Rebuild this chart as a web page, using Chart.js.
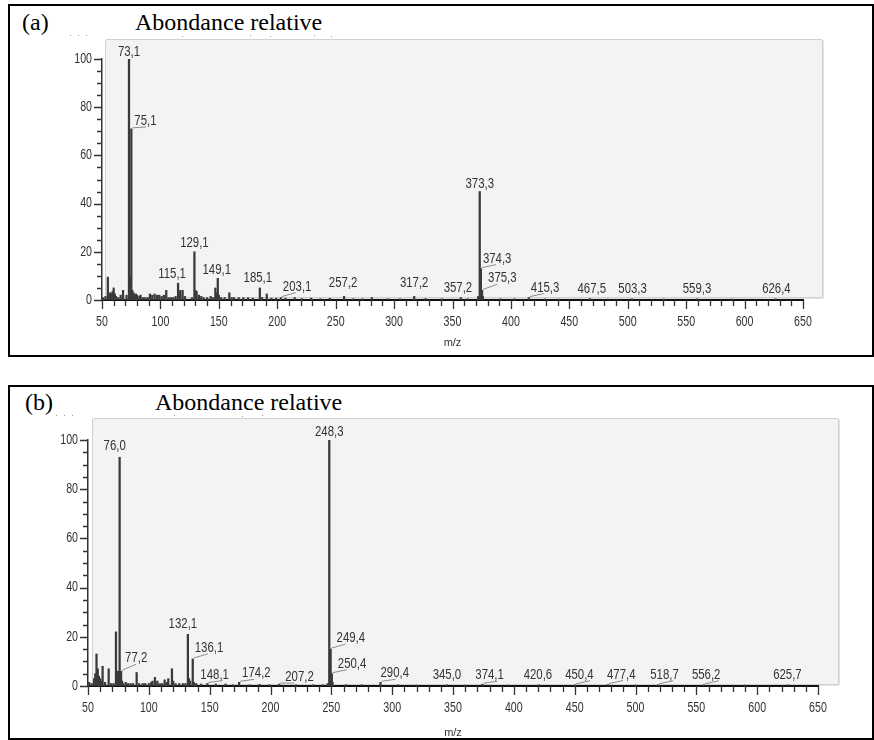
<!DOCTYPE html>
<html>
<head>
<meta charset="utf-8">
<script src="https://cdn.jsdelivr.net/npm/chart.js@4.4.1/dist/chart.umd.min.js"></script>
<style>
html,body{margin:0;padding:0;background:#fff;}
body{width:874px;height:740px;position:relative;overflow:hidden;}
.box{position:absolute;border:2px solid #000;box-sizing:border-box;}
.panel{position:absolute;background:#f3f3f3;border:1px solid #d0d0d0;box-sizing:border-box;border-radius:2px;box-shadow:1px 1px 0 #e4e4e4;}
.ttl{position:absolute;font-family:'Liberation Serif','Times New Roman',serif;font-size:24px;line-height:24px;color:#000;white-space:nowrap;}
.dot{position:absolute;width:1px;height:1px;background:#9a9a9a;}
.cv{position:absolute;}
</style>
</head>
<body>
<div class="box" style="left:8px;top:4px;width:866px;height:353px;"></div>
<div class="ttl" style="left:22px;top:10px;">(a)</div>
<div class="ttl" style="left:135px;top:10px;">Abondance relative</div>
<div class="dot" style="left:70px;top:35px;"></div><div class="dot" style="left:78px;top:35px;"></div><div class="dot" style="left:86px;top:35px;"></div>
<div class="dot" style="left:182px;top:36px;"></div><div class="dot" style="left:250px;top:35px;"></div><div class="dot" style="left:270px;top:36px;"></div><div class="dot" style="left:314px;top:35px;"></div><div class="dot" style="left:331px;top:36px;"></div>
<div class="panel" style="left:105px;top:39px;width:718px;height:259px;"></div>
<canvas id="chartA" class="cv" style="left:10px;top:6px;" width="860" height="348"></canvas>

<div class="box" style="left:8px;top:385px;width:866px;height:355px;"></div>
<div class="ttl" style="left:25px;top:390px;">(b)</div>
<div class="ttl" style="left:155px;top:390px;">Abondance relative</div>
<div class="dot" style="left:56px;top:415px;"></div><div class="dot" style="left:64px;top:415px;"></div><div class="dot" style="left:72px;top:415px;"></div>
<div class="dot" style="left:174px;top:415px;"></div><div class="dot" style="left:242px;top:416px;"></div><div class="dot" style="left:262px;top:415px;"></div>
<div class="panel" style="left:92px;top:418px;width:747px;height:267px;"></div>
<canvas id="chartB" class="cv" style="left:10px;top:388px;" width="860" height="352"></canvas>

<script>
// ---------------- DATA: spectrum (a) ----------------
const mzA = [51,53,55,56,57,58,59,60,61,62,64,66,68,71,73.1,74,75.1,76,77,78,79,80,82,83,85,87,89,91,93,95,97,99,101,103,105,107,109,111,113,115.1,116,117,119,121,127,129.1,130,131,133,135,137,140,143,145,147,148,149.1,150,152,155,159,161,163,167,171,175,179,185.1,187,191,195,199,203.1,207,215,221,229,237,245,257.2,265,273,281,295,305,317.2,327,341,357.2,363,372,373.3,374.3,375.3,376,391,403,415.3,429,441,467.5,483,503.3,531,559.3,589,626.4];
const intA = [1,1.5,9.5,2,3,2.5,3.5,5,2.5,1.5,1,2,4,2,100,10,71,4,3,2,2.5,2,1.5,2,1,1,1,2.5,2,2.5,2,2,1.5,2,4,1,1,1,1.5,7,3,4,4,1.5,1,20,4,3.5,2,1.5,1,1,1.5,1,5,3,9,2,1,1,3,1,1,1,1,1,0.8,5,1,2.5,0.8,0.8,1,0.8,1,0.6,0.8,0.5,0.7,1.5,0.5,0.5,1,0.5,0.5,1.5,0.6,0.5,1,0.5,1.5,45,13,4,1.5,0.5,0.5,1,0.5,0.4,0.6,0.4,0.5,0.4,0.5,0.4,0.5];
const labelMzA  = [73.1,75.1,115.1,129.1,149.1,185.1,203.1,257.2,317.2,357.2,373.3,374.3,375.3,415.3,467.5,503.3,559.3,626.4];
const labelTxtA = ['73,1','75,1','115,1','129,1','149,1','185,1','203,1','257,2','317,2','357,2','373,3','374,3','375,3','415,3','467,5','503,3','559,3','626,4'];

// ---------------- DATA: spectrum (b) ----------------
const mzB = [51,53,55,56,57,58,59,60,61,62,64,67,69,71,73,74,75,76,77.2,78,79,81,83,85,87,90,92,95,97,100,102,103,105,107,109,111,113,115,116,119,120,122,125,128,130,132.1,133,134,136.1,137,139,143,148.1,155,163,169,174.2,183,191,199,207.2,221,235,243,247,248.3,249.4,250.4,251,262,275,290.4,305,320,345.0,360,374.1,395,420.6,450.4,477.4,500,518.7,556.2,590,625.7];
const intB = [1.5,1,3,5,13,7,4,3,2,8,1.5,7,1,1,22,6,6,93,6,2,1,1.5,1,1,1,5.5,1,1,1,1,1.5,2,3.5,2,1,1,2.5,1.5,3,7,2,1,1,1,1,21,3,2,11,1.5,1,0.8,1,0.8,0.8,0.5,1.5,0.5,0.7,0.5,0.8,0.5,0.5,0.5,1,100,15,5,1.5,0.5,0.5,1.5,0.5,0.4,0.5,0.4,0.7,0.4,0.5,0.5,0.6,0.4,0.5,0.5,0.4,0.5];
const labelMzB  = [76,77.2,132.1,136.1,148.1,174.2,207.2,248.3,249.4,250.4,290.4,345.0,374.1,420.6,450.4,477.4,518.7,556.2,625.7];
const labelTxtB = ['76,0','77,2','132,1','136,1','148,1','174,2','207,2','248,3','249,4','250,4','290,4','345,0','374,1','420,6','450,4','477,4','518,7','556,2','625,7'];

// ---------------- axis settings ----------------
const xMin = 50, xMax = 650, xStep = 10, xLabelEvery = 50;
const yMin = 0, yMax = 100, yStep = 5, yLabelEvery = 20;
const axisTitle = 'm/z';

// ---------------- label placement (style: mode, dx px, dy px) ----------------
const placeA = [['c',0,-3],['l',3,-4],['c',-6,-5],['c',0,-5],['c',-1,-4],['c',-2,-6],['l',2,-7],['c',-1,-9],['c',0,-9],['c',-3,-6],['c',0,-4],['l',2,-6],['l',6,-8],['l',2,-6],['c',2,-6],['c',1,-6],['c',0,-6],['c',1,-6]];
const placeB = [['c',-5,-7],['l',4,-9],['c',-5,-6],['l',2,-7],['l',-7,-5],['l',3,-5],['l',6,-3],['c',0,-4],['l',6,-7],['l',6,-6],['l',0,-5],['c',0,-6],['l',-7,-5],['c',-1,-6],['l',-10,-6],['l',-1,-6],['l',-8,-6],['l',-12,-6],['c',-1,-6]];

const FONT = "'Liberation Sans',Arial,sans-serif";
const TXT = '#333';
const CONDENSE = 0.76;

function condText(ctx, text, x, y, align) {
  ctx.save();
  ctx.translate(x, y);
  ctx.scale(CONDENSE, 1);
  ctx.textAlign = align;
  ctx.fillText(text, 0, 0);
  ctx.restore();
}

function labelPlugin(lmz, ltxt, place, mz, inten) {
  return {
    id: 'peakLabels',
    afterDatasetsDraw(chart) {
      const {ctx, scales: {x, y}} = chart;
      ctx.save();
      ctx.font = '15px ' + FONT;
      ctx.textBaseline = 'alphabetic';
      lmz.forEach((m, i) => {
        const idx = mz.indexOf(m);
        const px = x.getPixelForValue(m);
        const py = y.getPixelForValue(inten[idx]);
        const [mode, dx, dy] = place[i];
        const w = ctx.measureText(ltxt[i]).width * CONDENSE;
        const bx = mode === 'c' ? px + dx - w / 2 : px + dx;
        const by = py + dy;
        ctx.fillStyle = TXT;
        condText(ctx, ltxt[i], bx, by, 'left');
        if (mode === 'l') {
          ctx.strokeStyle = '#8c8c8c';
          ctx.lineWidth = 1;
          ctx.beginPath();
          ctx.moveTo(px + 1, py - 1);
          ctx.lineTo(px + 15, by + 2);
          ctx.stroke();
        }
      });
      ctx.restore();
    }
  };
}

const axisPlugin = {
  id: 'axisMarks',
  afterDraw(chart) {
    const {ctx, chartArea: a, scales: {x, y}} = chart;
    ctx.save();
    ctx.strokeStyle = '#333';
    ctx.lineWidth = 1.3;
    ctx.beginPath();
    y.ticks.forEach(t => {
      const p = Math.round(y.getPixelForValue(t.value)) + 0.5;
      const len = Math.round(t.value) % yLabelEvery === 0 ? 8 : 5;
      ctx.moveTo(a.left - len, p); ctx.lineTo(a.left, p);
    });
    x.ticks.forEach(t => {
      const p = Math.round(x.getPixelForValue(t.value)) + 0.5;
      const len = Math.round(t.value) % xLabelEvery === 0 ? 9 : 6;
      ctx.moveTo(p, a.bottom); ctx.lineTo(p, a.bottom + len);
    });
    ctx.stroke();
    ctx.fillStyle = TXT;
    ctx.font = '14px ' + FONT;
    ctx.textBaseline = 'middle';
    y.ticks.forEach(t => {
      const v = Math.round(t.value);
      if (v % yLabelEvery === 0) condText(ctx, String(v), a.left - 10, y.getPixelForValue(t.value), 'right');
    });
    x.ticks.forEach(t => {
      const v = Math.round(t.value);
      if (v % xLabelEvery === 0) condText(ctx, String(v), x.getPixelForValue(t.value), a.bottom + 22, 'center');
    });
    ctx.restore();
  }
};

function makeChart(id, mz, inten, lmz, ltxt, place, pad, xH) {
  const data = mz.map((m, i) => ({x: m, y: inten[i]}));
  return new Chart(document.getElementById(id), {
    type: 'bar',
    data: {datasets: [{data: data, backgroundColor: '#3a3a3a', borderWidth: 0, barThickness: 1.6}]},
    options: {
      responsive: false, animation: false,
      layout: {padding: pad, autoPadding: false},
      plugins: {legend: {display: false}, tooltip: {enabled: false}, title: {display: false}},
      scales: {
        x: {
          type: 'linear', min: xMin, max: xMax, offset: false,
          grid: {display: false, drawTicks: false, tickLength: 0},
          border: {display: true, color: '#111', width: 2},
          ticks: {stepSize: xStep, autoSkip: false, maxRotation: 0, minRotation: 0, display: false},
          title: {display: true, text: axisTitle, color: TXT, font: {family: FONT, size: 11}, padding: {top: 0, bottom: 0}},
          afterFit: s => { s.height = xH; }
        },
        y: {
          type: 'linear', min: yMin, max: yMax,
          grid: {display: false, drawTicks: false, tickLength: 0},
          border: {display: true, color: '#333', width: 1.5},
          ticks: {stepSize: yStep, autoSkip: false, display: false},
          afterFit: s => { s.width = 40; }
        }
      }
    },
    plugins: [labelPlugin(lmz, ltxt, place, mz, inten), axisPlugin]
  });
}

makeChart('chartA', mzA, intA, labelMzA, labelTxtA, placeA, {left: 52, right: 67, top: 53, bottom: 4}, 50);
makeChart('chartB', mzB, intB, labelMzB, labelTxtB, placeB, {left: 38, right: 52, top: 52, bottom: 0}, 54);
</script>
</body>
</html>
